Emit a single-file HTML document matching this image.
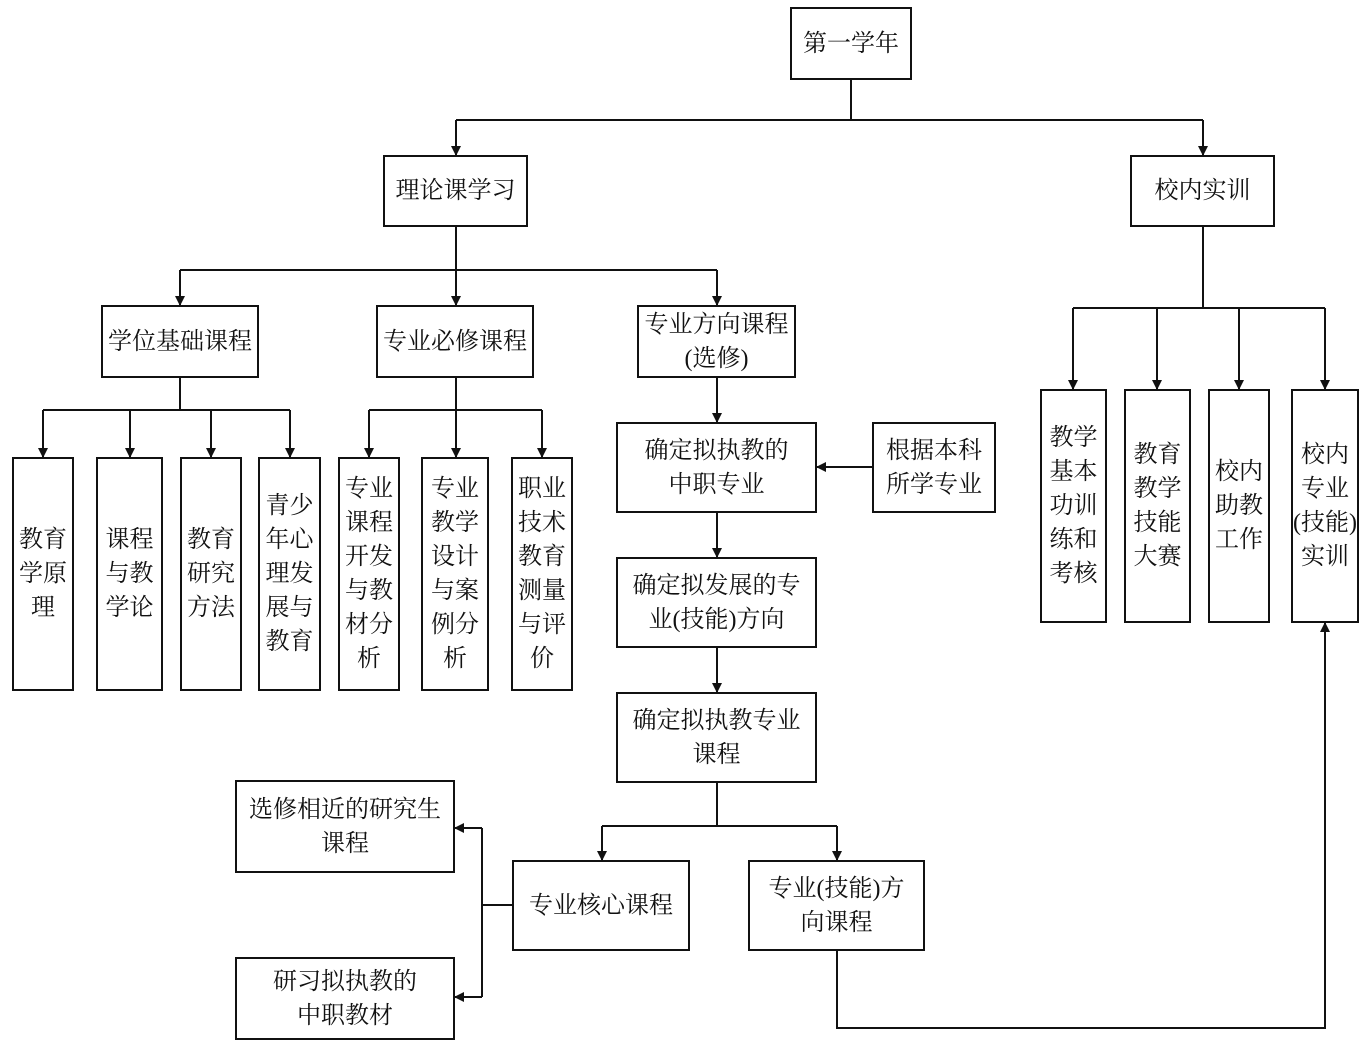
<!DOCTYPE html>
<html><head><meta charset="utf-8"><style>
body{margin:0;width:1365px;height:1044px;background:#fff;position:relative;overflow:hidden;font-family:"Liberation Serif","Noto Serif CJK SC","Noto Sans CJK SC",serif;}
.b{position:absolute;border:2px solid #111;box-sizing:border-box;display:flex;align-items:center;justify-content:center;text-align:center;font-size:24px;line-height:34px;color:#111;background:#fff}
svg{position:absolute;left:0;top:0;z-index:2}
</style></head><body>
<svg width="1365" height="1044">
<defs><marker id="a" markerWidth="10" markerHeight="10" refX="9" refY="5" orient="auto" markerUnits="userSpaceOnUse"><path d="M0,0 L10,5 L0,10 z" fill="#111"/></marker></defs>
<g stroke="#111" stroke-width="2" fill="none">
<path d="M851,80V120M456,120H1203"/>
<g marker-end="url(#a)">
<path d="M456,120V155"/><path d="M1203,120V155"/>
<path d="M180,270V305"/><path d="M456,270V305"/><path d="M717,270V305"/>
<path d="M43,410V457"/><path d="M130,410V457"/><path d="M211,410V457"/><path d="M290,410V457"/>
<path d="M369,410V457"/><path d="M456,410V457"/><path d="M542,410V457"/>
<path d="M717,378V422"/><path d="M717,513V557"/><path d="M717,648V692"/><path d="M872,467H817"/>
<path d="M602,826V860"/><path d="M837,826V860"/>
<path d="M482,828H455"/><path d="M482,997H455"/>
<path d="M837,951V1028H1325V623"/>
<path d="M1073,308V389"/><path d="M1157,308V389"/><path d="M1239,308V389"/><path d="M1325,308V389"/>
</g>
<path d="M456,227V270M180,270H717"/>
<path d="M180,378V410M43,410H290"/>
<path d="M456,378V410M369,410H542"/>
<path d="M717,783V826M602,826H837"/>
<path d="M512,905H482M482,828V997"/>
<path d="M1203,227V308M1073,308H1325"/>
</g></svg>
<div class="b" style="left:790px;top:7px;width:122px;height:73px">第一学年</div>
<div class="b" style="left:383px;top:155px;width:145px;height:72px">理论课学习</div>
<div class="b" style="left:1130px;top:155px;width:145px;height:72px">校内实训</div>
<div class="b" style="left:101px;top:305px;width:158px;height:73px">学位基础课程</div>
<div class="b" style="left:376px;top:305px;width:158px;height:73px">专业必修课程</div>
<div class="b" style="left:637px;top:305px;width:159px;height:73px">专业方向课程<br>(选修)</div>
<div class="b" style="left:12px;top:457px;width:62px;height:234px">教育<br>学原<br>理</div>
<div class="b" style="left:96px;top:457px;width:67px;height:234px">课程<br>与教<br>学论</div>
<div class="b" style="left:180px;top:457px;width:62px;height:234px">教育<br>研究<br>方法</div>
<div class="b" style="left:258px;top:457px;width:63px;height:234px">青少<br>年心<br>理发<br>展与<br>教育</div>
<div class="b" style="left:338px;top:457px;width:62px;height:234px">专业<br>课程<br>开发<br>与教<br>材分<br>析</div>
<div class="b" style="left:421px;top:457px;width:68px;height:234px">专业<br>教学<br>设计<br>与案<br>例分<br>析</div>
<div class="b" style="left:511px;top:457px;width:62px;height:234px">职业<br>技术<br>教育<br>测量<br>与评<br>价</div>
<div class="b" style="left:616px;top:422px;width:201px;height:91px">确定拟执教的<br>中职专业</div>
<div class="b" style="left:872px;top:422px;width:124px;height:91px">根据本科<br>所学专业</div>
<div class="b" style="left:616px;top:557px;width:201px;height:91px">确定拟发展的专<br>业(技能)方向</div>
<div class="b" style="left:616px;top:692px;width:201px;height:91px">确定拟执教专业<br>课程</div>
<div class="b" style="left:235px;top:780px;width:220px;height:93px">选修相近的研究生<br>课程</div>
<div class="b" style="left:512px;top:860px;width:178px;height:91px">专业核心课程</div>
<div class="b" style="left:748px;top:860px;width:177px;height:91px">专业(技能)方<br>向课程</div>
<div class="b" style="left:235px;top:957px;width:220px;height:83px">研习拟执教的<br>中职教材</div>
<div class="b" style="left:1040px;top:389px;width:67px;height:234px">教学<br>基本<br>功训<br>练和<br>考核</div>
<div class="b" style="left:1124px;top:389px;width:67px;height:234px">教育<br>教学<br>技能<br>大赛</div>
<div class="b" style="left:1208px;top:389px;width:62px;height:234px">校内<br>助教<br>工作</div>
<div class="b" style="left:1291px;top:389px;width:68px;height:234px">校内<br>专业<br>(技能)<br>实训</div>
</body></html>
